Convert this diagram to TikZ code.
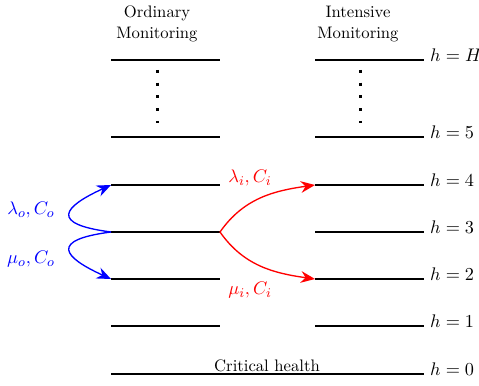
\documentclass[tikz,border=0pt]{standalone}
\usepackage{amsmath, amssymb}
\usepackage{tikz}
\usetikzlibrary{arrows.meta, positioning}
\tikzset{
    textnode/.style  = {draw=none, fill=none, rectangle, inner sep=0.2em, font=\normalsize},
    mathnode/.style  = {textnode, font=\fontsize{11}{13}\selectfont},
    levellabel/.style = {mathnode, anchor=west, inner sep=3.5pt, yshift=2.7pt},
    levelline/.style = {black, thick},
    dotline/.style = {black, line width=1.8pt, dash pattern=on 1.8pt off 5.85pt},
    bluearrow/.style = {blue, thick, -{Stealth[length=8.5pt, width=7pt]}},
    redarrow/.style = {red, thick, -{Stealth[length=8.5pt, width=7pt]}},
    every text node part/.style={align=center}
}
\begin{document}
\begin{tikzpicture}[x=0.6pt, y=0.6pt]
    \useasboundingbox (0,0) rectangle (479,385);

    % headers
    \node [name=ORD, textnode] at (157,361) {Ordinary\\[1pt]Monitoring};
    \node [name=INT, textnode] at (358,361) {Intensive\\[1pt]Monitoring};

    % level ends, ordinary (O) and intensive (I)
    \coordinate (OHw) at (111,325); \coordinate (OHe) at (220,325);
    \coordinate (O5w) at (111,248); \coordinate (O5e) at (220,248);
    \coordinate (O4w) at (111,200); \coordinate (O4e) at (220,200);
    \coordinate (O3w) at (111,153); \coordinate (O3e) at (220,153);
    \coordinate (O2w) at (111,106); \coordinate (O2e) at (220,106);
    \coordinate (O1w) at (111,59);  \coordinate (O1e) at (220,59);
    \coordinate (O0w) at (111,11);
    \coordinate (IHw) at (315,325); \coordinate (IHe) at (424,325);
    \coordinate (I5w) at (315,248); \coordinate (I5e) at (424,248);
    \coordinate (I4w) at (315,200); \coordinate (I4e) at (424,200);
    \coordinate (I3w) at (315,153); \coordinate (I3e) at (424,153);
    \coordinate (I2w) at (315,106); \coordinate (I2e) at (424,106);
    \coordinate (I1w) at (315,59);  \coordinate (I1e) at (424,59);
    \coordinate (I0e) at (424,11);

    \draw [levelline] (OHw) -- (OHe);  \draw [levelline] (IHw) -- (IHe);
    \draw [levelline] (O5w) -- (O5e);  \draw [levelline] (I5w) -- (I5e);
    \draw [levelline] (O4w) -- (O4e);  \draw [levelline] (I4w) -- (I4e);
    \draw [levelline] (O3w) -- (O3e);  \draw [levelline] (I3w) -- (I3e);
    \draw [levelline] (O2w) -- (O2e);  \draw [levelline] (I2w) -- (I2e);
    \draw [levelline] (O1w) -- (O1e);  \draw [levelline] (I1w) -- (I1e);
    \draw [levelline] (O0w) -- (I0e);

    % vertical dots
    \coordinate (ODtop) at (157,315); \coordinate (ODbot) at (157,262);
    \coordinate (IDtop) at (360,315); \coordinate (IDbot) at (360,262);
    \draw [dotline] (ODtop) -- (ODbot);
    \draw [dotline] (IDtop) -- (IDbot);

    % level labels
    \node [name=hH, levellabel] at (IHe) {$h = H$};
    \node [name=h5, levellabel] at (I5e) {$h = 5$};
    \node [name=h4, levellabel] at (I4e) {$h = 4$};
    \node [name=h3, levellabel] at (I3e) {$h = 3$};
    \node [name=h2, levellabel] at (I2e) {$h = 2$};
    \node [name=h1, levellabel] at (I1e) {$h = 1$};
    \node [name=h0, levellabel] at (I0e) {$h = 0$};
    \node [name=CRIT, textnode, anchor=base] at (267,13) {Critical health};

    % ordinary transitions
    \draw [bluearrow] (O3w) .. controls +(-62,8) and +(-48,-22) .. (O4w);
    \draw [bluearrow] (O3w) .. controls +(-62,-8) and +(-48,22) .. (O2w);
    \node [name=LO, mathnode, color=blue] at (31,175) {$\lambda_o, C_o$};
    \node [name=MO, mathnode, color=blue] at (31,126) {$\mu_o, C_o$};

    % switch to intensive
    \draw (O3e) edge[redarrow, out=55, in=188] (I4w);
    \draw (O3e) edge[redarrow, out=-55, in=172] (I2w);
    \node [name=LI, mathnode, color=red] at (250,207) {$\lambda_i, C_i$};
    \node [name=MI, mathnode, color=red] at (250,95) {$\mu_i, C_i$};
\end{tikzpicture}
\end{document}
